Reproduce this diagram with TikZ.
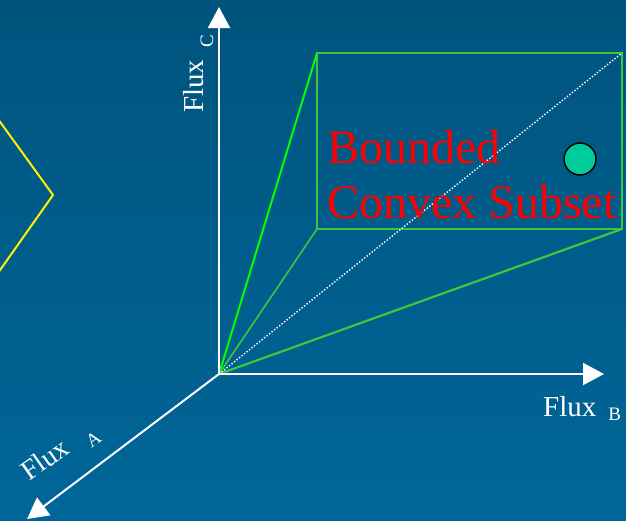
\documentclass[tikz,border=0pt]{standalone}
\usepackage{fontspec}
\setmainfont{Liberation Serif}
\usetikzlibrary{arrows.meta}
\definecolor{bgtop}{RGB}{0,84,126}
\definecolor{bgbot}{RGB}{0,102,153}
\definecolor{rectgreen}{RGB}{60,200,60}
\definecolor{brightgreen}{RGB}{0,255,0}
\definecolor{dotteal}{RGB}{0,204,153}
\begin{document}
\begin{tikzpicture}[x=1pt,y=-1pt,
  axis/.style={white, line width=2pt, -{Triangle[length=21pt,width=22pt]}},
  axlabel/.style={white, anchor=base west, inner sep=0pt, font=\fontsize{29}{29}\selectfont},
  axsub/.style={white, anchor=base west, inner sep=0pt, font=\fontsize{19}{19}\selectfont},
  redtext/.style={red, anchor=base west, inner sep=0pt, font=\fontsize{48}{48}\selectfont},
  greenline/.style={rectgreen, line width=2.2pt}]
\shade[top color=bgtop,bottom color=bgbot] (0,0) rectangle (626,520);
\useasboundingbox (0,0) rectangle (626,520);
% coordinates
\coordinate (O) at (219,374);
\coordinate (C) at (219,7);
\coordinate (B) at (604,374);
\coordinate (A) at (27,519);
\coordinate (tl) at (317,53);
\coordinate (tr) at (622,53);
\coordinate (bl) at (317,229);
\coordinate (br) at (622,229);
\coordinate (y1) at (-2,119);
\coordinate (y2) at (53,195);
\coordinate (y3) at (-2,273);
% yellow shape
\draw[yellow, line width=2pt] (y1) -- (y2) -- (y3);
% green box and rays
\draw[greenline] (tl) rectangle (br);
\draw[brightgreen, line width=2pt] (O) -- (tl);
\draw[greenline, line width=1.6pt] (O) -- (bl);
\draw[greenline] (O) -- (br);
\draw[white, line width=1.4pt, dash pattern=on 1.4pt off 1.8pt] (O) -- (tr);
% axes
\draw[axis] (O) -- (C);
\draw[axis] (O) -- (B);
\draw[axis] (O) -- (A);
% point
\node[circle, draw=black, fill=dotteal, line width=1.5pt, minimum size=32pt, inner sep=0pt] (pt) at (580,159) {};
% texts
\node[redtext] (bnd) at (327,163) {Bounded};
\node[redtext] (cvx) at (327,218) {Convex Subset};
\node[axlabel] (lb) at (543,416) {Flux\hspace{12pt}\raisebox{-4pt}{\fontsize{19}{19}\selectfont B}};
\node[axlabel, rotate=90] (lc) at (203,113) {Flux\hspace{12pt}\raisebox{-10pt}{\fontsize{19}{19}\selectfont C}};
\node[axlabel, rotate=35, font=\fontsize{28}{28}\selectfont] (la) at (29,482) {Flux\hspace{19pt}\raisebox{-8pt}{\fontsize{19}{19}\selectfont A}};
\end{tikzpicture}
\end{document}
